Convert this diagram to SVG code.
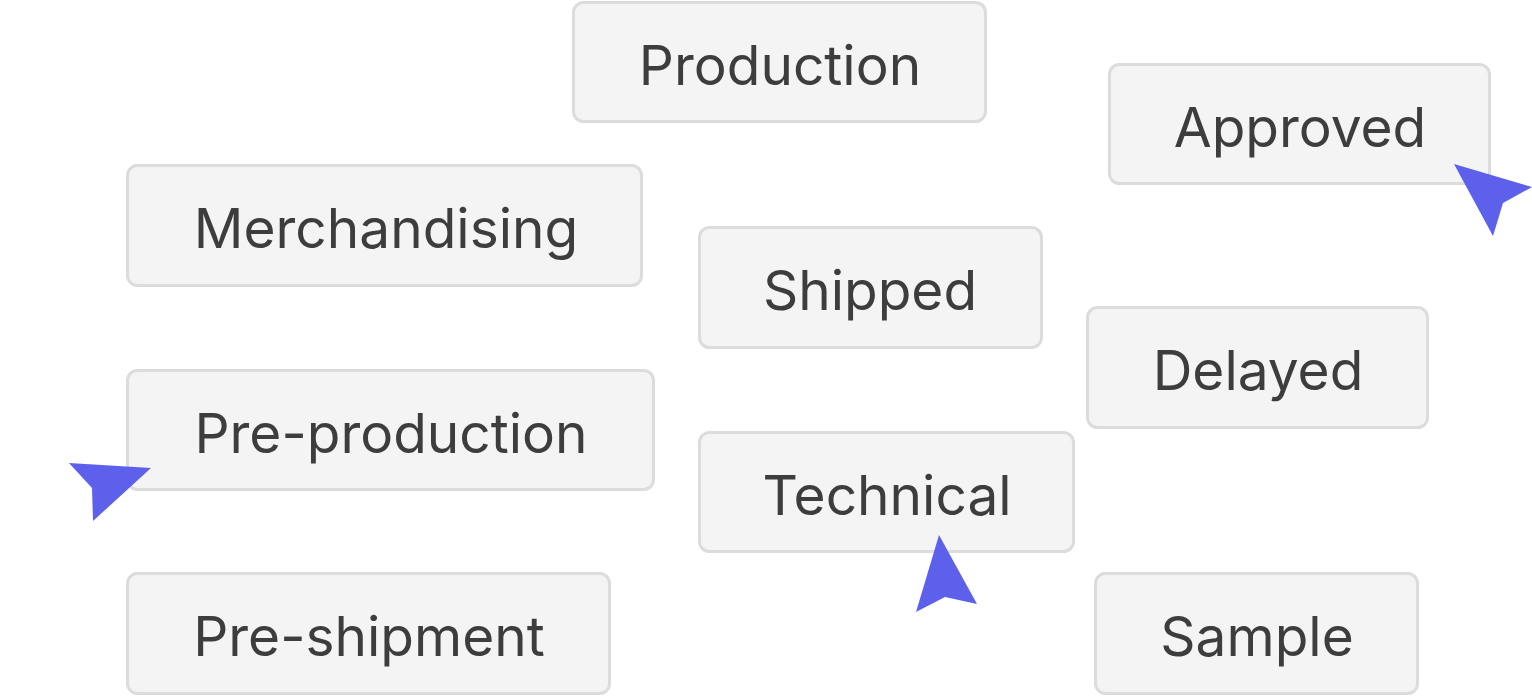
<svg xmlns="http://www.w3.org/2000/svg" width="1532" height="696" viewBox="0 0 1532 696">
<style>
.n rect{fill:#f4f4f4;stroke:#dcdcdc;stroke-width:3}
.n text{font-family:Inter,"Liberation Sans",sans-serif;font-size:55px;fill:#3d3d3d;text-anchor:middle}
.a{fill:#5c60eb}
</style>
<rect width="1532" height="696" fill="#ffffff"/>
<g id="node-production" class="n"><rect x="573.5" y="2.5" width="412" height="119" rx="10"/><text x="780" y="85">Production</text></g>
<g id="node-approved" class="n"><rect x="1109.5" y="64.5" width="380" height="119" rx="10"/><text x="1300" y="147">Approved</text></g>
<g id="node-merchandising" class="n"><rect x="127.5" y="165.5" width="514" height="120" rx="10"/><text x="386" y="248">Merchandising</text></g>
<g id="node-shipped" class="n"><rect x="699.5" y="227.5" width="342" height="120" rx="10"/><text x="870" y="310">Shipped</text></g>
<g id="node-delayed" class="n"><rect x="1087.5" y="307.5" width="340" height="120" rx="10"/><text x="1258" y="390">Delayed</text></g>
<g id="node-preproduction" class="n"><rect x="127.5" y="370.5" width="526" height="119" rx="10"/><text x="391" y="453">Pre-production</text></g>
<g id="node-technical" class="n"><rect x="699.5" y="432.5" width="374" height="119" rx="10"/><text x="887" y="515">Technical</text></g>
<g id="node-preshipment" class="n"><rect x="127.5" y="573.5" width="482" height="120" rx="10"/><text x="369" y="656">Pre-shipment</text></g>
<g id="node-sample" class="n"><rect x="1095.5" y="573.5" width="322" height="120" rx="10"/><text x="1257" y="656">Sample</text></g>
<g id="connectors">
<polygon class="a" points="1454,164 1532,187 1503,203 1493,236"/>
<polygon class="a" points="151,468 93,521 92,488 69,463"/>
<polygon class="a" points="939,535 977,604 945,597 916,612"/>
</g>
</svg>
